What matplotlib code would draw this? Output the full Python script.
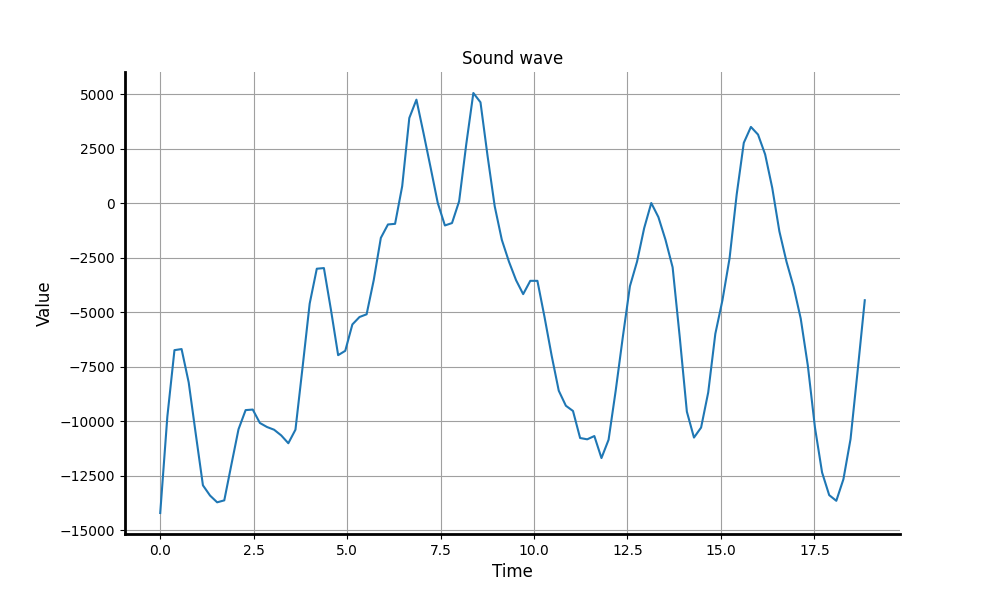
import numpy as np
import matplotlib
matplotlib.use('Agg')
import matplotlib.pyplot as plt

# 100 samples over 0..6*pi
time = np.linspace(0, 6 * np.pi, 100)
values = [
    -14220, -9800, -6750, -6700, -8230, -10610, -12950, -13420, -13730, -13640,
    -12000, -10380, -9500, -9475, -10090, -10275, -10400, -10660, -11020, -10400,
    -7540, -4615, -3015, -2985, -4920, -6980, -6780, -5570, -5230, -5105,
    -3540, -1600, -985, -955, 770, 3900, 4740, 3200, 1615, 0,
    -1030, -920, 80, 2690, 5046, 4620, 2150, -150, -1690, -2690,
    -3540, -4180, -3570, -3570, -5230, -7000, -8610, -9300, -9540, -10780,
    -10840, -10690, -11700, -10860, -8610, -6150, -3815, -2690, -1155, 0,
    -646, -1690, -2950, -6150, -9570, -10760, -10300, -8690, -6000, -4460,
    -2540, 385, 2760, 3490, 3140, 2230, 690, -1300, -2690, -3845,
    -5300, -7460, -10300, -12360, -13400, -13660, -12670, -10830, -7690, -4460,
]

fig, ax = plt.subplots(figsize=(10, 6), dpi=100)
ax.plot(time, values, color='#1f77b4', linewidth=1.5)

ax.set_title('Sound wave', fontsize=12)
ax.set_xlabel('Time', fontsize=12)
ax.set_ylabel('Value', fontsize=12)
ax.grid(True, color='#a0a0a0', linewidth=0.8)

ax.spines['top'].set_visible(False)
ax.spines['right'].set_visible(False)
ax.spines['left'].set_linewidth(2)
ax.spines['bottom'].set_linewidth(2)

plt.savefig('out.png')
